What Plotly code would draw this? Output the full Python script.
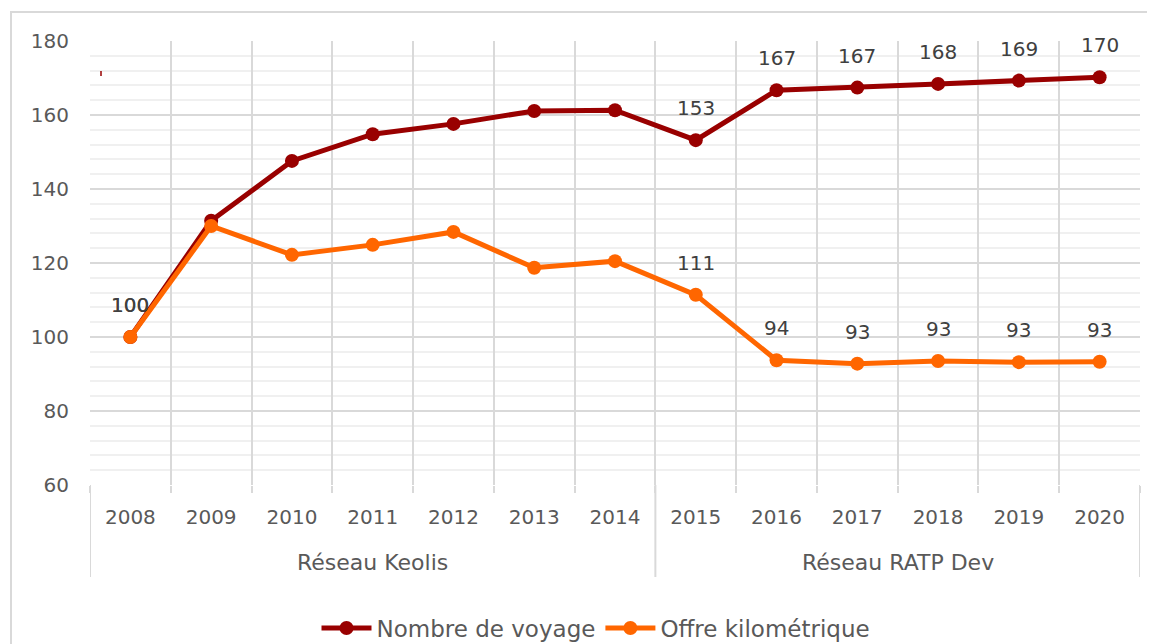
import plotly.graph_objs as go

annees = ['2008', '2009', '2010', '2011', '2012', '2013', '2014',
          '2015', '2016', '2017', '2018', '2019', '2020']
reseaux = ['Réseau Keolis', 'Réseau RATP Dev']
nb_annees_reseau = [7, 6]
voyages = [100, 131.4, 147.6, 154.8, 157.6, 161.1, 161.3,
           153.2, 166.7, 167.4, 168.4, 169.3, 170.2]
offre_km = [100, 130.0, 122.2, 124.9, 128.4, 118.7, 120.5,
            111.4, 93.7, 92.8, 93.5, 93.2, 93.3]
etiq_voyages = ['100', '', '', '', '', '', '',
                '153', '167', '167', '168', '169', '170']
etiq_offre = ['100', '', '', '', '', '', '',
              '111', '94', '93', '93', '93', '93']

police = 'DejaVu Sans'
rouge = '#990000'
orange = '#FF6600'
gris_grille = '#d9d9d9'

# zone de tracé (px dans la figure)
G, D, H, B = 82, 1132, 33, 477
larg, haut = D - G, B - H


def py(y_px):
    return (B - y_px) / haut


def px(x_px):
    return (x_px - G) / larg


fig = go.Figure()
fig.add_trace(go.Scatter(x=annees, y=voyages, name='Nombre de voyage',
                         mode='lines+markers',
                         line=dict(color=rouge, width=5),
                         marker=dict(color=rouge, size=14)))
fig.add_trace(go.Scatter(x=annees, y=offre_km, name='Offre kilométrique',
                         mode='lines+markers',
                         line=dict(color=orange, width=5),
                         marker=dict(color=orange, size=14)))

# étiquettes de données
for serie, etiq in ((voyages, etiq_voyages), (offre_km, etiq_offre)):
    for i, (val, t) in enumerate(zip(serie, etiq)):
        if t:
            fig.add_annotation(x=i, y=val, xref='x', yref='y', text=t,
                               showarrow=False, yshift=32,
                               font=dict(family=police, size=20, color='#404040'))

# regroupement par réseau sous l'axe
debut = -0.5
for nom, n in zip(reseaux, nb_annees_reseau):
    fin = debut + n
    fig.add_annotation(x=(debut + fin) / 2, y=py(554), xref='x', yref='paper',
                       yanchor='middle', text=nom, showarrow=False,
                       font=dict(family=police, size=22, color='#595959'))
    fig.add_shape(type='line', xref='x', yref='paper', x0=debut, x1=debut,
                  y0=py(569), y1=0, line=dict(color=gris_grille, width=2))
    debut = fin
fig.add_shape(type='line', xref='x', yref='paper', x0=debut, x1=debut,
              y0=py(569), y1=0, line=dict(color=gris_grille, width=2))

# cadre du graphique
fig.add_shape(type='rect', xref='paper', yref='paper',
              x0=px(3), x1=px(1170), y0=py(660), y1=py(4),
              line=dict(color=gris_grille, width=2), layer='below')
fig.add_shape(type='line', xref='paper', yref='paper',
              x0=px(93), x1=px(93), y0=py(68), y1=py(63),
              line=dict(color=rouge, width=1.5))

fig.update_layout(
    width=1155, height=644,
    margin=dict(l=G, r=1155 - D, t=H, b=644 - B),
    paper_bgcolor='white', plot_bgcolor='white',
    font=dict(family=police, size=20, color='#595959'),
    showlegend=True,
    legend=dict(orientation='h', xref='container', yref='container',
                x=588 / 1155, xanchor='center', y=1 - 620 / 644, yanchor='middle',
                font=dict(family=police, size=23, color='#595959'),
                itemwidth=50, tracegroupgap=0),
    xaxis=dict(type='category', range=[-0.5, 12.5], tickson='boundaries',
               showgrid=True, gridcolor=gris_grille, gridwidth=1.5,
               ticks='outside', ticklen=7, tickcolor=gris_grille, tickwidth=1.5,
               ticklabelstandoff=18, tickfont=dict(size=20, color='#595959'),
               showline=False, zeroline=False, automargin=False),
    yaxis=dict(range=[60, 180], dtick=20, gridcolor=gris_grille, gridwidth=1.5,
               tickfont=dict(size=20, color='#595959'), ticks='', zeroline=False,
               showline=False, automargin=False, ticklabelstandoff=20,
               minor=dict(dtick=4, showgrid=True, gridcolor='#f0f0f0', gridwidth=1.5)),
)

fig.write_html("out.html")
